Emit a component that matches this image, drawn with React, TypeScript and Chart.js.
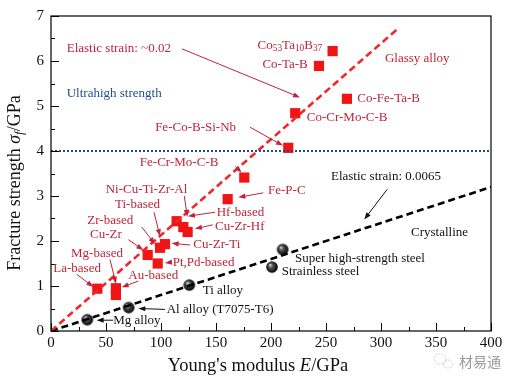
import { useEffect, useRef } from "react";
import { Chart, registerables } from "chart.js";

Chart.register(...registerables);

// ---- data ----
const xTickStep = 50;
const yTickStep = 1;
const xMax = 400;
const yMax = 7;

// Glassy alloys (red squares): Young's modulus (GPa), fracture strength (GPa)
const glassyE = [256, 243.6, 269, 222, 215.7, 175.7, 160.6, 114.2, 120.3, 124.2, 103.6, 99.1, 87.9, 97, 42.1, 59, 59];
const glassyS = [6.22, 5.89, 5.16, 4.84, 4.07, 3.41, 2.93, 2.44, 2.31, 2.2, 1.93, 1.85, 1.69, 1.5, 0.94, 0.95, 0.8];

// Crystalline alloys (black spheres)
const crystE = [33, 70.6, 125.7, 210.6, 200.9];
const crystS = [0.25, 0.52, 1.02, 1.81, 1.42];

// Trend lines
const glassyLineE = [0, 314];
const glassyLineS = [0, 6.69];
const crystLineE = [0, 400];
const crystLineS = [0, 3.2];
const ultraLevel = 4.0;

// Annotation labels (text, anchor E, anchor S, align, colour group)
const labelText = [
  "Elastic strain: ~0.02", "Ultrahigh strength", "Co_{53}Ta_{10}B_{37}", "Co-Ta-B", "Glassy alloy",
  "Co-Fe-Ta-B", "Co-Cr-Mo-C-B", "Fe-Co-B-Si-Nb", "Fe-Cr-Mo-C-B", "Fe-P-C",
  "Ni-Cu-Ti-Zr-Al", "Ti-based", "Hf-based", "Cu-Zr-Hf", "Zr-based",
  "Cu-Zr-Ti", "Cu-Zr", "Pt,Pd-based", "Mg-based", "Au-based",
  "La-based", "Mg alloy", "Al alloy (T7075-T6)", "Ti alloy", "Elastic strain: 0.0065",
  "Crystalline", "Super high-strength steel", "Strainless steel",
];
const labelE = [14.3, 14.3, 246.6, 233.4, 303.6, 278.5, 232.5, 168.2, 152.1, 197.3, 49.7, 58.2, 150.6, 149.1, 33.0, 129.4, 35.5, 110.6, 18.2, 70.3, 2.1, 56.6, 105.2, 137.9, 254.5, 327.3, 221.8, 209.7];
const labelS = [6.27, 5.27, 6.35, 5.91, 6.06, 5.16, 4.74, 4.51, 3.75, 3.13, 3.15, 2.8, 2.64, 2.33, 2.46, 1.93, 2.14, 1.53, 1.73, 1.24, 1.38, 0.24, 0.48, 0.89, 3.44, 2.19, 1.61, 1.31];
const labelAlign = ["l", "l", "r", "r", "l", "l", "l", "r", "r", "l", "l", "l", "l", "l", "l", "l", "l", "l", "l", "l", "l", "l", "l", "l", "l", "l", "l", "l"];
const labelGroup = ["g", "u", "g", "g", "g", "g", "g", "g", "g", "g", "g", "g", "g", "g", "g", "g", "g", "g", "g", "g", "g", "c", "c", "c", "c", "c", "c", "c"];

// Arrows (from E,S -> to E,S)
const arrowFromE = [119.1, 180.9, 167.5, 193, 121.2, 149.1, 147, 93.6, 82.5, 70.3, 126.4, 109.7, 53.6, 79.4, 23.4, 56.6, 103.6, 305.7];
const arrowFromS = [6.27, 4.53, 3.66, 3.07, 3.0, 2.64, 2.36, 2.64, 2.31, 2.03, 1.91, 1.53, 1.59, 1.11, 1.26, 0.24, 0.48, 3.15];
const arrowToE = [226.4, 210.9, 173.2, 170.3, 123.9, 124.5, 130.9, 99.1, 94.5, 83.9, 109.7, 103.6, 59.1, 64.3, 38.5, 41.5, 79.4, 284.8];
const arrowToS = [5.19, 4.12, 3.52, 2.97, 2.54, 2.55, 2.27, 2.11, 1.93, 1.8, 1.95, 1.51, 1.05, 0.97, 0.98, 0.24, 0.5, 2.48];
const arrowGroup = ["g", "g", "g", "g", "g", "g", "g", "g", "g", "g", "g", "g", "g", "g", "g", "c", "c", "c"];

// ---- styles ----
const SERIF = "'Liberation Serif', 'Times New Roman', serif";
const colors: Record<string, string> = { g: "#c0243a", u: "#27508c", c: "#111111" };

type Seg = { t: string; sub?: boolean; it?: boolean };

function parseRich(s: string): Seg[] {
  const segs: Seg[] = [];
  const re = /_\{([^}]*)\}/g;
  let last = 0;
  let m: RegExpExecArray | null;
  while ((m = re.exec(s))) {
    if (m.index > last) segs.push({ t: s.slice(last, m.index) });
    segs.push({ t: m[1], sub: true });
    last = re.lastIndex;
  }
  if (last < s.length) segs.push({ t: s.slice(last) });
  return segs;
}

function drawRich(ctx: CanvasRenderingContext2D, segs: Seg[], x: number, y: number, align: string, size: number, color: string) {
  const fontOf = (sg: Seg) => `${sg.it ? "italic " : ""}${sg.sub ? size * 0.72 : size}px ${SERIF}`;
  let total = 0;
  for (const sg of segs) {
    ctx.font = fontOf(sg);
    total += ctx.measureText(sg.t).width;
  }
  let cx = align === "r" ? x - total : align === "c" ? x - total / 2 : x;
  ctx.fillStyle = color;
  ctx.textBaseline = "middle";
  ctx.textAlign = "left";
  for (const sg of segs) {
    ctx.font = fontOf(sg);
    ctx.fillText(sg.t, cx, y + (sg.sub ? size * 0.28 : 0));
    cx += ctx.measureText(sg.t).width;
  }
}

function drawArrow(ctx: CanvasRenderingContext2D, x1: number, y1: number, x2: number, y2: number, color: string) {
  const ang = Math.atan2(y2 - y1, x2 - x1);
  const len = 7, half = 2.6;
  ctx.strokeStyle = color;
  ctx.fillStyle = color;
  ctx.lineWidth = 1;
  ctx.setLineDash([]);
  ctx.beginPath();
  ctx.moveTo(x1, y1);
  ctx.lineTo(x2 - Math.cos(ang) * len * 0.6, y2 - Math.sin(ang) * len * 0.6);
  ctx.stroke();
  ctx.beginPath();
  ctx.moveTo(x2, y2);
  ctx.lineTo(x2 - Math.cos(ang) * len - Math.sin(ang) * half, y2 - Math.sin(ang) * len + Math.cos(ang) * half);
  ctx.lineTo(x2 - Math.cos(ang) * len + Math.sin(ang) * half, y2 - Math.sin(ang) * len - Math.cos(ang) * half);
  ctx.closePath();
  ctx.fill();
}

function makeSphere(r: number): HTMLCanvasElement {
  const c = document.createElement("canvas");
  const s = Math.ceil(r * 2 + 2);
  c.width = s;
  c.height = s;
  const g = c.getContext("2d")!;
  const cx = s / 2, cy = s / 2;
  const grad = g.createRadialGradient(cx - r * 0.35, cy - r * 0.4, r * 0.05, cx, cy, r);
  grad.addColorStop(0, "#d8d8d8");
  grad.addColorStop(0.35, "#555555");
  grad.addColorStop(1, "#000000");
  g.fillStyle = grad;
  g.beginPath();
  g.arc(cx, cy, r, 0, Math.PI * 2);
  g.fill();
  return c;
}

const decorPlugin = {
  id: "decor",
  afterDatasetsDraw(chart: any) {
    const { ctx, chartArea: a, scales } = chart;
    const xs = scales.x, ys = scales.y;
    ctx.save();
    // frame
    ctx.strokeStyle = "#000";
    ctx.lineWidth = 1.2;
    ctx.setLineDash([]);
    ctx.strokeRect(a.left, a.top, a.right - a.left, a.bottom - a.top);
    // inward ticks
    ctx.lineWidth = 1;
    ctx.beginPath();
    for (let v = 0; v <= xMax; v += xTickStep / 2) {
      const px = Math.round(xs.getPixelForValue(v)) + 0.5;
      const l = v % xTickStep === 0 ? 8 : 4;
      ctx.moveTo(px, a.bottom);
      ctx.lineTo(px, a.bottom - l);
    }
    for (let v = 0; v <= yMax; v += yTickStep / 2) {
      const py = Math.round(ys.getPixelForValue(v)) + 0.5;
      const l = v % yTickStep === 0 ? 8 : 4;
      ctx.moveTo(a.left, py);
      ctx.lineTo(a.left + l, py);
    }
    ctx.stroke();

    // arrows
    for (let i = 0; i < arrowFromE.length; i++) {
      drawArrow(
        ctx,
        xs.getPixelForValue(arrowFromE[i]), ys.getPixelForValue(arrowFromS[i]),
        xs.getPixelForValue(arrowToE[i]), ys.getPixelForValue(arrowToS[i]),
        colors[arrowGroup[i]]
      );
    }
    // labels
    for (let i = 0; i < labelText.length; i++) {
      drawRich(
        ctx, parseRich(labelText[i]),
        xs.getPixelForValue(labelE[i]), ys.getPixelForValue(labelS[i]),
        labelAlign[i], 13, colors[labelGroup[i]]
      );
    }

    // axis titles
    const xT: Seg[] = [{ t: "Young's modulus " }, { t: "E", it: true }, { t: "/GPa" }];
    drawRich(ctx, xT, 258, 366, "c", 18.5, "#111");
    ctx.save();
    ctx.translate(15, 183);
    ctx.rotate(-Math.PI / 2);
    const yT: Seg[] = [{ t: "Fracture strength " }, { t: "σ", it: true }, { t: "f", it: true, sub: true }, { t: "/GPa" }];
    drawRich(ctx, yT, 0, 0, "c", 18, "#111");
    ctx.restore();

    // watermark
    ctx.strokeStyle = "#c4c4c4";
    ctx.lineWidth = 1;
    ctx.setLineDash([1.5, 1.5]);
    ctx.beginPath();
    ctx.ellipse(440, 359, 6, 5, 0, 0, Math.PI * 2);
    ctx.stroke();
    ctx.beginPath();
    ctx.ellipse(448, 364, 5, 4, 0, 0, Math.PI * 2);
    ctx.stroke();
    ctx.setLineDash([]);
    ctx.fillStyle = "#9a9a9a";
    ctx.font = "14px 'Noto Sans CJK SC', sans-serif";
    ctx.textAlign = "left";
    ctx.textBaseline = "middle";
    ctx.fillText("材易通", 459, 362);
    ctx.restore();
  },
};

export default function App() {
  const ref = useRef<HTMLCanvasElement | null>(null);
  useEffect(() => {
    if (!ref.current) return;
    const sphere = makeSphere(5.8);
    const chart = new Chart(ref.current, {
      type: "scatter",
      data: {
        datasets: [
          {
            label: "Ultrahigh",
            data: [{ x: 0, y: ultraLevel }, { x: xMax, y: ultraLevel }],
            showLine: true,
            borderColor: "#1d4f7e",
            borderWidth: 2,
            borderDash: [2, 2],
            pointRadius: 0,
          },
          {
            label: "Glassy line",
            data: glassyLineE.map((e, i) => ({ x: e, y: glassyLineS[i] })),
            showLine: true,
            borderColor: "#f0282a",
            borderWidth: 2.6,
            borderDash: [7, 4],
            pointRadius: 0,
          },
          {
            label: "Crystalline line",
            data: crystLineE.map((e, i) => ({ x: e, y: crystLineS[i] })),
            showLine: true,
            borderColor: "#000",
            borderWidth: 2.6,
            borderDash: [7, 4],
            pointRadius: 0,
          },
          {
            label: "Glassy alloy",
            data: glassyE.map((e, i) => ({ x: e, y: glassyS[i] })),
            pointStyle: "rect",
            pointRadius: 7.2,
            backgroundColor: "#f01414",
            borderWidth: 0,
          },
          {
            label: "Crystalline",
            data: crystE.map((e, i) => ({ x: e, y: crystS[i] })),
            pointStyle: sphere as any,
            pointRadius: 6,
          },
        ],
      },
      options: {
        responsive: false,
        animation: false,
        events: [],
        layout: { padding: { top: 10, right: 21, left: 0, bottom: 0 } },
        plugins: { legend: { display: false }, tooltip: { enabled: false } },
        scales: {
          x: {
            type: "linear",
            min: 0,
            max: xMax,
            ticks: { stepSize: xTickStep, color: "#111", font: { family: SERIF, size: 15 }, padding: 3, maxRotation: 0 },
            grid: { display: false, drawTicks: false },
            border: { display: false },
            afterFit: (s: any) => { s.height = 51; },
          },
          y: {
            type: "linear",
            min: 0,
            max: yMax,
            ticks: { stepSize: yTickStep, color: "#111", font: { family: SERIF, size: 15 }, padding: 7 },
            grid: { display: false, drawTicks: false },
            border: { display: false },
            afterFit: (s: any) => { s.width = 51; },
          },
        },
      },
      plugins: [decorPlugin],
    });
    return () => chart.destroy();
  }, []);
  return (
    <div style={{ position: "fixed", left: 0, top: 0, width: 512, height: 382, background: "#fff" }}>
      <canvas ref={ref} width={512} height={382} style={{ display: "block" }} />
    </div>
  );
}
